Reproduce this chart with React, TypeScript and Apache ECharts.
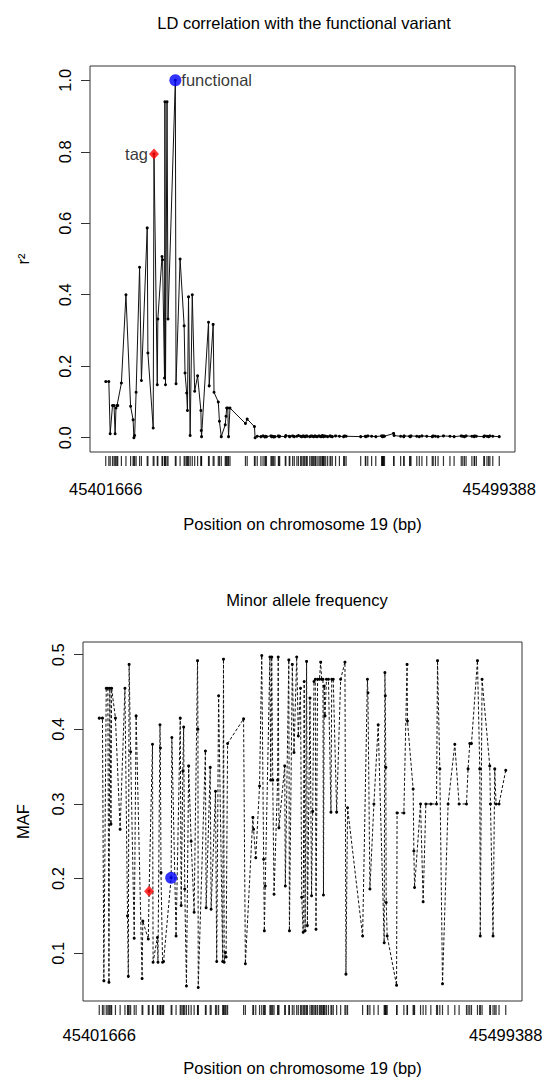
import { useEffect, useRef } from "react";
import * as echarts from "echarts";

// SNP positions on chromosome 19 (bp)
const positions = [
  45401666, 45402434, 45402770, 45403347, 45403731, 45403995, 45404211, 45404475, 45404643, 45405556,
  45406684, 45407837, 45408461, 45408653, 45408845, 45409205, 45410070, 45410526, 45411966, 45412134,
  45413455, 45413647, 45414463, 45414607, 45415640, 45415784, 45416264, 45416360, 45416504, 45416888,
  45417128, 45418953, 45419121, 45420130, 45421138, 45421354, 45421762, 45421954, 45422219, 45422627,
  45423155, 45423755, 45424476, 45425292, 45425388, 45425460, 45427189, 45427357, 45428341, 45428557,
  45429614, 45429902, 45430358, 45431342, 45431534, 45431703, 45431967, 45432159, 45432519, 45436360,
  45436793, 45438593, 45438761, 45439290, 45440202, 45440730, 45441186, 45441355, 45441571, 45442699,
  45442891, 45443131, 45443371, 45443684, 45444548, 45444692, 45444860, 45446253, 45446397, 45447237,
  45447381, 45448077, 45448486, 45449134, 45449518, 45450046, 45450334, 45450694, 45450935, 45451151,
  45451511, 45451703, 45452327, 45452711, 45452976, 45453288, 45453600, 45453768, 45454152, 45454608,
  45454896, 45455136, 45455448, 45455568, 45455737, 45455929, 45456289, 45456769, 45457369, 45457561,
  45457921, 45458738, 45459698, 45460731, 45460971, 45461355, 45464980, 45466133, 45466253, 45466733,
  45467694, 45468726, 45470167, 45470335, 45470431, 45470551, 45470647, 45470887, 45473144, 45473264,
  45474897, 45475665, 45475761, 45477129, 45477298, 45477466, 45478906, 45479530, 45480179, 45481379,
  45482748, 45482988, 45483540, 45484188, 45485533, 45487142, 45488174, 45489951, 45490335, 45490743,
  45491151, 45492592, 45493144, 45493264, 45493696, 45495545, 45495713, 45496337, 45496746, 45497058,
  45497778, 45499388,
];

// LD r^2 with the functional variant
const r2 = [
  0.157, 0.157, 0.011, 0.09, 0.09, 0.011, 0.083, 0.09, 0.09, 0.153,
  0.4, 0.088, 0.05, 0.0, 0.006, 0.127, 0.477, 0.16, 0.587, 0.237,
  0.027, 0.794, 0.148, 0.332, 0.507, 0.498, 0.167, 0.94, 0.148, 0.94,
  0.332, 1.0, 0.151, 0.5, 0.313, 0.181, 0.125, 0.076, 0.394, 0.006,
  0.4, 0.13, 0.173, 0.076, 0.02, 0.003, 0.323, 0.145, 0.317, 0.127,
  0.1, 0.046, 0.003, 0.036, 0.06, 0.083, 0.083, 0.003, 0.083, 0.04,
  0.052, 0.031, 0.0, 0.004, 0.003, 0.005, 0.002, 0.004, 0.003, 0.005,
  0.003, 0.004, 0.002, 0.003, 0.005, 0.003, 0.004, 0.003, 0.006, 0.004,
  0.003, 0.005, 0.003, 0.004, 0.006, 0.004, 0.003, 0.005, 0.004, 0.003,
  0.005, 0.004, 0.003, 0.005, 0.004, 0.003, 0.005, 0.004, 0.003, 0.005,
  0.004, 0.003, 0.006, 0.004, 0.003, 0.005, 0.004, 0.003, 0.005, 0.004,
  0.003, 0.005, 0.004, 0.003, 0.005, 0.004, 0.003, 0.004, 0.003, 0.005,
  0.004, 0.003, 0.005, 0.004, 0.003, 0.004, 0.005, 0.004, 0.012, 0.006,
  0.004, 0.003, 0.005, 0.004, 0.003, 0.005, 0.004, 0.003, 0.005, 0.004,
  0.003, 0.005, 0.004, 0.003, 0.005, 0.004, 0.003, 0.005, 0.004, 0.003,
  0.005, 0.004, 0.003, 0.005, 0.004, 0.003, 0.005, 0.004, 0.003, 0.005,
  0.004, 0.003,
];

// Minor allele frequency
const maf = [
  0.415, 0.415, 0.063, 0.455, 0.455, 0.061, 0.455, 0.273, 0.455, 0.415,
  0.266, 0.455, 0.15, 0.069, 0.487, 0.37, 0.12, 0.418, 0.066, 0.143,
  0.119, 0.183, 0.38, 0.088, 0.121, 0.088, 0.406, 0.375, 0.208, 0.088,
  0.089, 0.201, 0.389, 0.123, 0.415, 0.164, 0.344, 0.403, 0.186, 0.056,
  0.351, 0.25, 0.155, 0.492, 0.4, 0.054, 0.371, 0.161, 0.349, 0.159,
  0.317, 0.089, 0.445, 0.089, 0.494, 0.088, 0.101, 0.095, 0.381, 0.414,
  0.086, 0.282, 0.266, 0.228, 0.324, 0.499, 0.226, 0.13, 0.19, 0.497,
  0.332, 0.497, 0.332, 0.179, 0.332, 0.497, 0.268, 0.351, 0.19, 0.493,
  0.13, 0.487, 0.369, 0.497, 0.391, 0.455, 0.175, 0.128, 0.464, 0.13,
  0.491, 0.137, 0.442, 0.177, 0.29, 0.464, 0.467, 0.132, 0.467, 0.467,
  0.49, 0.467, 0.467, 0.178, 0.458, 0.418, 0.467, 0.467, 0.289, 0.467,
  0.467, 0.289, 0.467, 0.49, 0.072, 0.295, 0.123, 0.467, 0.449, 0.186,
  0.3, 0.406, 0.114, 0.476, 0.445, 0.349, 0.168, 0.123, 0.057, 0.288,
  0.288, 0.487, 0.411, 0.32, 0.237, 0.188, 0.3, 0.169, 0.3, 0.3,
  0.3, 0.492, 0.347, 0.059, 0.3, 0.38, 0.3, 0.3, 0.347, 0.381,
  0.381, 0.492, 0.347, 0.123, 0.467, 0.351, 0.3, 0.123, 0.347, 0.3,
  0.3, 0.345,
];

const tagPosition = 45413647;
const functionalPosition = 45418953;
const xLabelValues = [45401666, 45499388];
const r2Ticks = [0, 0.2, 0.4, 0.6, 0.8, 1.0];
const mafTicks = [0.1, 0.2, 0.3, 0.4, 0.5];

const FONT = "Liberation Sans, Arial, Helvetica, sans-serif";
const FS = 16.5;

export default function App() {
  const ref = useRef<HTMLDivElement>(null);

  useEffect(() => {
    if (!ref.current) return;
    const chart = echarts.init(ref.current, null, { renderer: "svg" });

    const n = Math.min(positions.length, r2.length, maf.length);
    const xMin = Math.min(...positions);
    const xMax = Math.max(...positions);
    const pad = (xMax - xMin) * 0.04;
    const tagIdx = positions.indexOf(tagPosition);
    const funIdx = positions.indexOf(functionalPosition);

    const r2Data: number[][] = [];
    const mafData: number[][] = [];
    const rugData: number[][] = [];
    for (let i = 0; i < n; i++) {
      r2Data.push([positions[i], r2[i]]);
      mafData.push([positions[i], maf[i]]);
      rugData.push([positions[i], 0.5]);
    }

    const hiddenX = (gridIndex: number) => ({
      type: "value",
      gridIndex,
      min: xMin - pad,
      max: xMax + pad,
      axisLine: { show: false },
      axisTick: { show: false },
      axisLabel: { show: false },
      splitLine: { show: false },
    });

    const rugX = (gridIndex: number, margin: number, nameGap: number) => ({
      type: "value",
      gridIndex,
      min: xMin - pad,
      max: xMax + pad,
      axisLine: { show: false },
      axisTick: { show: false },
      splitLine: { show: false },
      axisLabel: {
        customValues: xLabelValues,
        formatter: (v: number) => String(v),
        fontSize: FS,
        color: "#000",
        margin,
        fontFamily: FONT,
      },
      name: "Position on chromosome 19 (bp)",
      nameLocation: "middle",
      nameGap,
      nameTextStyle: { fontSize: FS, color: "#000", fontFamily: FONT },
    });

    const hiddenY = (gridIndex: number) => ({
      type: "value",
      gridIndex,
      min: 0,
      max: 1,
      show: false,
    });

    const mainY = (gridIndex: number, min: number, max: number, ticks: number[], name: string, nameGap: number) => ({
      type: "value",
      gridIndex,
      min,
      max,
      axisLine: { show: false },
      splitLine: { show: false },
      axisTick: { show: true, customValues: ticks, length: 9, lineStyle: { color: "#333", width: 1 } },
      axisLabel: {
        customValues: ticks,
        rotate: 90,
        margin: 17,
        fontSize: FS,
        color: "#000",
        fontFamily: FONT,
        formatter: (v: number) => v.toFixed(1),
      },
      name,
      nameLocation: "middle",
      nameRotate: 90,
      nameGap,
      nameTextStyle: { fontSize: FS, color: "#000", fontFamily: FONT },
    });

    const option: any = {
      animation: false,
      backgroundColor: "#fff",
      textStyle: { fontFamily: FONT },
      title: [
        {
          text: "LD correlation with the functional variant",
          left: 299,
          top: 9,
          textAlign: "center",
          textStyle: { fontSize: FS, fontWeight: "normal", color: "#000", fontFamily: FONT },
        },
        {
          text: "Minor allele frequency",
          left: 302,
          top: 586,
          textAlign: "center",
          textStyle: { fontSize: FS, fontWeight: "normal", color: "#000", fontFamily: FONT },
        },
      ],
      grid: [
        { left: 90, top: 66, width: 425, height: 386, show: true, borderColor: "#333", borderWidth: 1, backgroundColor: "transparent" },
        { left: 90, top: 456, width: 425, height: 10 },
        { left: 83, top: 642, width: 439, height: 359, show: true, borderColor: "#333", borderWidth: 1, backgroundColor: "transparent" },
        { left: 83, top: 1005, width: 439, height: 10 },
      ],
      xAxis: [hiddenX(0), rugX(1, 14, 49), hiddenX(2), rugX(3, 11, 44)],
      yAxis: [
        mainY(0, -0.04, 1.04, r2Ticks, "r²", 59),
        hiddenY(1),
        mainY(2, 0.036, 0.517, mafTicks, "MAF", 52),
        hiddenY(3),
      ],
      series: [
        {
          type: "line",
          xAxisIndex: 0,
          yAxisIndex: 0,
          data: r2Data,
          symbol: "circle",
          symbolSize: 3,
          showSymbol: true,
          itemStyle: { color: "#000" },
          lineStyle: { color: "#111", width: 1 },
          z: 2,
        },
        {
          type: "scatter",
          xAxisIndex: 1,
          yAxisIndex: 1,
          data: rugData,
          symbol: "rect",
          symbolSize: [1.2, 10],
          itemStyle: { color: "#000" },
        },
        {
          type: "scatter",
          xAxisIndex: 0,
          yAxisIndex: 0,
          data: tagIdx >= 0 ? [[positions[tagIdx], r2[tagIdx]]] : [],
          symbol: "diamond",
          symbolSize: [10, 11],
          itemStyle: { color: "#ff0000" },
          label: { show: true, formatter: "tag", position: "left", distance: 1, fontSize: FS, color: "#000", fontFamily: FONT },
          z: 5,
        },
        {
          type: "scatter",
          xAxisIndex: 0,
          yAxisIndex: 0,
          data: funIdx >= 0 ? [[positions[funIdx], r2[funIdx]]] : [],
          symbol: "circle",
          symbolSize: 12,
          itemStyle: { color: "#0000ff" },
          label: { show: true, formatter: "functional", position: "right", distance: 0, fontSize: FS, color: "#000", fontFamily: FONT },
          z: 5,
        },
        {
          type: "line",
          xAxisIndex: 2,
          yAxisIndex: 2,
          data: mafData,
          symbol: "circle",
          symbolSize: 3,
          showSymbol: true,
          itemStyle: { color: "#000" },
          lineStyle: { color: "#111", width: 1, type: [3, 2] },
          z: 2,
        },
        {
          type: "scatter",
          xAxisIndex: 3,
          yAxisIndex: 3,
          data: rugData,
          symbol: "rect",
          symbolSize: [1.2, 10],
          itemStyle: { color: "#000" },
        },
        {
          type: "scatter",
          xAxisIndex: 2,
          yAxisIndex: 2,
          data: tagIdx >= 0 ? [[positions[tagIdx], maf[tagIdx]]] : [],
          symbol: "diamond",
          symbolSize: [10, 11],
          itemStyle: { color: "#ff0000" },
          z: 5,
        },
        {
          type: "scatter",
          xAxisIndex: 2,
          yAxisIndex: 2,
          data: funIdx >= 0 ? [[positions[funIdx], maf[funIdx]]] : [],
          symbol: "circle",
          symbolSize: 12,
          itemStyle: { color: "#0000ff" },
          z: 5,
        },
      ],
    };

    chart.setOption(option);
    return () => chart.dispose();
  }, []);

  return (
    <div
      ref={ref}
      style={{ position: "absolute", left: 0, top: 0, width: 549, height: 1077, background: "#fff" }}
    />
  );
}
